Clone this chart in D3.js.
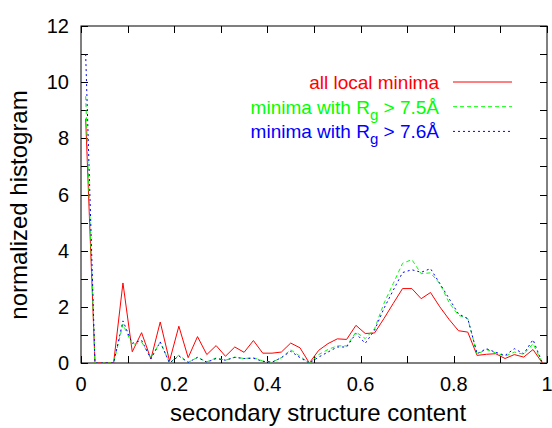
<!DOCTYPE html>
<html>
<head>
<meta charset="utf-8">
<script src="https://cdn.jsdelivr.net/npm/d3@7"></script>
<style>
  html, body { margin: 0; padding: 0; background: #fff; }
  svg { display: block; font-family: "Liberation Sans", Arial, Helvetica, sans-serif; }
</style>
</head>
<body>
<svg id="chart" width="552" height="428"></svg>
<script>
// bin centres of the histogram
const binCenters = [
  0.01, 0.03, 0.05, 0.07, 0.09, 0.11, 0.13, 0.15, 0.17, 0.19,
  0.21, 0.23, 0.25, 0.27, 0.29, 0.31, 0.33, 0.35, 0.37, 0.39,
  0.41, 0.43, 0.45, 0.47, 0.49, 0.51, 0.53, 0.55, 0.57, 0.59,
  0.61, 0.63, 0.65, 0.67, 0.69, 0.71, 0.73, 0.75, 0.77, 0.79,
  0.81, 0.83, 0.85, 0.87, 0.89, 0.91, 0.93, 0.95, 0.97, 0.99
];

const allMinima = [
  8.7, 0, 0, 0, 2.85, 0.4, 1.08, 0.14, 1.46, 0.07,
  1.31, 0.19, 0.94, 0.3, 0.62, 0.24, 0.57, 0.38, 0.8, 0.35,
  0.35, 0.39, 0.71, 0.54, 0, 0.45, 0.69, 0.86, 0.84, 1.34,
  1.05, 1.07, 1.58, 2.12, 2.65, 2.65, 2.29, 2.51, 2.0, 1.55,
  1.15, 1.1, 0.27, 0.31, 0.33, 0.16, 0.3, 0.21, 0.48, 0
];

const minimaRg75 = [
  9.5, 0, 0, 0, 1.38, 0.65, 0.75, 0.18, 0.75, 0,
  0.28, 0.02, 0.2, 0.04, 0.18, 0.1, 0.21, 0.16, 0.19, 0.07,
  0.03, 0.19, 0.47, 0.24, 0, 0.3, 0.48, 0.61, 0.61, 1.1,
  0.87, 1.22, 2.12, 2.83, 3.55, 3.68, 3.18, 3.21, 2.83, 2.15,
  1.7, 1.58, 0.32, 0.48, 0.36, 0.24, 0.39, 0.31, 0.69, 0
];

const minimaRg76 = [
  11.0, 0, 0, 0, 1.5, 0.7, 0.81, 0.15, 0.75, 0,
  0.25, 0.02, 0.2, 0.03, 0.16, 0.1, 0.2, 0.16, 0.17, 0.06,
  0.03, 0.19, 0.42, 0.19, 0, 0.21, 0.39, 0.57, 0.57, 1.05,
  0.7, 1.17, 1.94, 2.59, 3.22, 3.32, 3.23, 3.36, 2.83, 2.29,
  1.75, 1.58, 0.33, 0.51, 0.38, 0.27, 0.51, 0.33, 0.83, 0
];

const xTicks = [0, 0.1, 0.2, 0.3, 0.4, 0.5, 0.6, 0.7, 0.8, 0.9, 1];
const xTickLabels = [0, 0.2, 0.4, 0.6, 0.8, 1];
const yTicks = [0, 1, 2, 3, 4, 5, 6, 7, 8, 9, 10, 11, 12];
const yTickLabels = [0, 2, 4, 6, 8, 10, 12];

const seriesNames = ["all local minima", "minima with R|g| > 7.5Å", "minima with R|g| > 7.6Å"];
const seriesColors = ["#ff0000", "#00ff00", "#0000ff"];
const seriesDash = [null, "4,3", "2,3"];
const seriesValues = [allMinima, minimaRg75, minimaRg76];

// layout
const plot = { left: 81, right: 547, top: 26, bottom: 363 };
const tickLen = 7;

const svg = d3.select("#chart");

const x = d3.scaleLinear().domain([0, 1]).range([plot.left, plot.right]);
const y = d3.scaleLinear().domain([0, 12]).range([plot.bottom, plot.top]);

// frame
svg.append("rect")
  .attr("x", plot.left)
  .attr("y", plot.top)
  .attr("width", plot.right - plot.left)
  .attr("height", plot.bottom - plot.top)
  .attr("fill", "none")
  .attr("stroke", "#000")
  .attr("stroke-width", 1);

// ticks pointing inward on all four sides
const ticks = svg.append("g").attr("stroke", "#000").attr("stroke-width", 1);

xTicks.forEach(t => {
  const px = Math.round(x(t)) + 0.5;
  ticks.append("line").attr("x1", px).attr("x2", px)
    .attr("y1", plot.bottom).attr("y2", plot.bottom - tickLen);
  ticks.append("line").attr("x1", px).attr("x2", px)
    .attr("y1", plot.top).attr("y2", plot.top + tickLen);
});

yTicks.forEach(t => {
  const py = Math.round(y(t)) + 0.5;
  ticks.append("line").attr("x1", plot.left).attr("x2", plot.left + tickLen)
    .attr("y1", py).attr("y2", py);
  ticks.append("line").attr("x1", plot.right).attr("x2", plot.right - tickLen)
    .attr("y1", py).attr("y2", py);
});

// tick labels
svg.append("g")
  .selectAll("text")
  .data(xTickLabels)
  .join("text")
  .attr("x", d => x(d))
  .attr("y", 391)
  .attr("text-anchor", "middle")
  .attr("font-size", 20)
  .attr("fill", "#000")
  .text(d => d);

svg.append("g")
  .selectAll("text")
  .data(yTickLabels)
  .join("text")
  .attr("x", 69)
  .attr("y", d => y(d) + 7)
  .attr("text-anchor", "end")
  .attr("font-size", 20)
  .attr("fill", "#000")
  .text(d => d);

// axis titles
svg.append("text")
  .attr("x", 318)
  .attr("y", 421)
  .attr("text-anchor", "middle")
  .attr("font-size", 24)
  .text("secondary structure content");

svg.append("text")
  .attr("transform", "translate(27,205) rotate(-90)")
  .attr("text-anchor", "middle")
  .attr("font-size", 24)
  .text("normalized histogram");

// lines
const line = d3.line()
  .x((d, i) => x(binCenters[i]))
  .y(d => y(d));

svg.append("clipPath").attr("id", "clip")
  .append("rect")
  .attr("x", plot.left).attr("y", plot.top)
  .attr("width", plot.right - plot.left)
  .attr("height", plot.bottom - plot.top);

const lines = svg.append("g").attr("clip-path", "url(#clip)");

seriesValues.forEach((vals, i) => {
  lines.append("path")
    .datum(vals)
    .attr("d", line)
    .attr("fill", "none")
    .attr("stroke", seriesColors[i])
    .attr("stroke-width", 1)
    .attr("stroke-dasharray", seriesDash[i]);
});

// legend
const legend = svg.append("g");

seriesNames.forEach((name, i) => {
  const ly = 82 + i * 24.7;
  const txt = legend.append("text")
    .attr("x", 439)
    .attr("y", ly + 7)
    .attr("text-anchor", "end")
    .attr("font-size", 19)
    .attr("fill", seriesColors[i]);

  const parts = name.split("|");
  if (parts.length === 1) {
    txt.text(name);
  } else {
    txt.append("tspan").text(parts[0]);
    txt.append("tspan").attr("dy", 6).attr("font-size", 15).text(parts[1]);
    txt.append("tspan").attr("dy", -6).text(parts[2]);
  }

  legend.append("line")
    .attr("x1", 453).attr("x2", 512)
    .attr("y1", ly).attr("y2", ly)
    .attr("stroke", seriesColors[i])
    .attr("stroke-width", 1)
    .attr("stroke-dasharray", seriesDash[i]);
});
</script>
</body>
</html>
